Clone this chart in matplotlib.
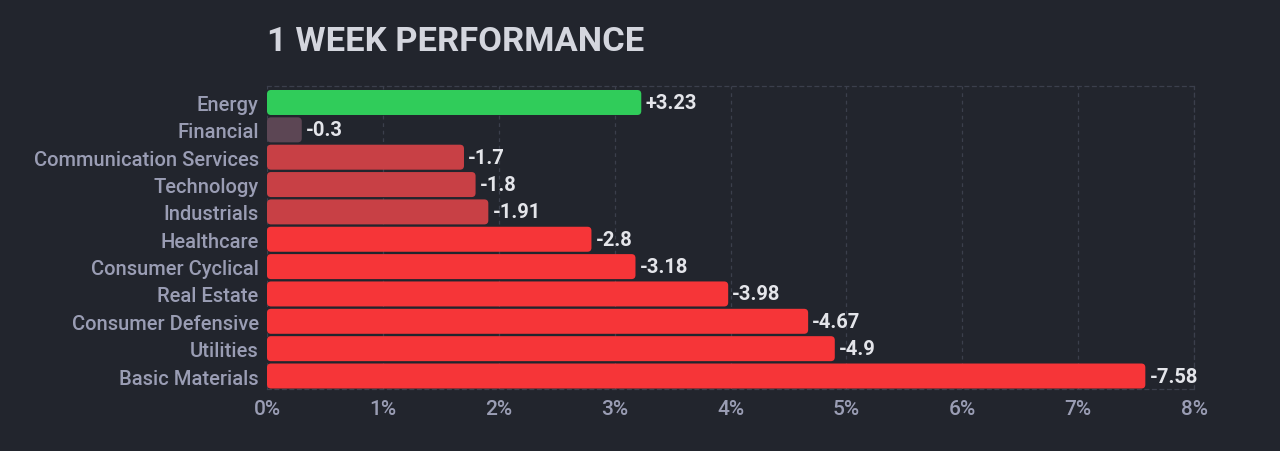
import matplotlib
matplotlib.use("Agg")
import matplotlib.pyplot as plt
from matplotlib.patches import FancyBboxPatch

# sector data, top to bottom
sectors = ["Energy", "Financial", "Communication Services", "Technology",
           "Industrials", "Healthcare", "Consumer Cyclical", "Real Estate",
           "Consumer Defensive", "Utilities", "Basic Materials"]
changes = [3.23, -0.3, -1.7, -1.8, -1.91, -2.8, -3.18, -3.98, -4.67, -4.9, -7.58]
value_labels = ["+3.23", "-0.3", "-1.7", "-1.8", "-1.91", "-2.8", "-3.18",
                "-3.98", "-4.67", "-4.9", "-7.58"]
ticks = [0, 1, 2, 3, 4, 5, 6, 7, 8]
tick_labels = ["0%", "1%", "2%", "3%", "4%", "5%", "6%", "7%", "8%"]

bg = "#22252d"
grid_col = "#3b3f4c"
label_col = "#9a9db4"


def bar_color(v):
    if v > 0:
        return "#30cc5a"
    if v > -1:
        return "#5c4654"
    if v > -2:
        return "#c84045"
    return "#f63538"


plt.rcParams['font.family'] = ['Roboto', 'DejaVu Sans']

fig = plt.figure(figsize=(12.8, 4.52), dpi=100, facecolor=bg)
ax = fig.add_axes([267 / 1280, 1 - 390 / 452, (1194 - 267) / 1280, (390 - 87) / 452])
ax.set_facecolor(bg)

n = len(sectors)
ypos = list(range(n))
vals = [abs(v) for v in changes]

ax.set_xlim(0, 8)
ax.set_ylim(10.475, -0.603)

# rounded bars (corner radius ~4px)
px_x = 8 / (1194 - 267)
px_y = (10.475 + 0.603) / (390 - 87)
r = 4 * px_x
for y, v, c in zip(ypos, vals, changes):
    h = 0.914
    p = FancyBboxPatch((0, y - h / 2), v, h,
                       boxstyle=f"round,pad=0,rounding_size={r}",
                       mutation_aspect=px_y / px_x,
                       facecolor=bar_color(c), edgecolor="none", zorder=3)
    ax.add_patch(p)

for y, v, lab in zip(ypos, vals, value_labels):
    ax.text(v + 0.035, y, lab, va="center", ha="left", color="#e4e5ea",
            fontsize=14.5, fontweight="bold", zorder=4)

ax.set_yticks(ypos)
ax.set_yticklabels(sectors, color=label_col, fontsize=14.5, fontweight="medium")
ax.set_xticks(ticks)
ax.set_xticklabels(tick_labels, color=label_col, fontsize=15, fontweight="medium")
ax.tick_params(axis="both", length=0)
ax.tick_params(axis="y", pad=6)
ax.tick_params(axis="x", pad=7)

ax.grid(axis="x", color=grid_col, linestyle=(0, (3, 3)), linewidth=0.9, zorder=0)
for side in ["top", "right", "bottom"]:
    ax.spines[side].set_color(grid_col)
    ax.spines[side].set_linestyle((0, (3, 3)))
    ax.spines[side].set_linewidth(0.9)
ax.spines["left"].set_visible(False)

fig.text(267 / 1280, 1 - 42 / 452, "1 WEEK PERFORMANCE", color="#d4d6de",
         fontsize=24.8, fontweight="bold", va="center", ha="left")

fig.savefig("out.png", dpi=100, facecolor=bg)
